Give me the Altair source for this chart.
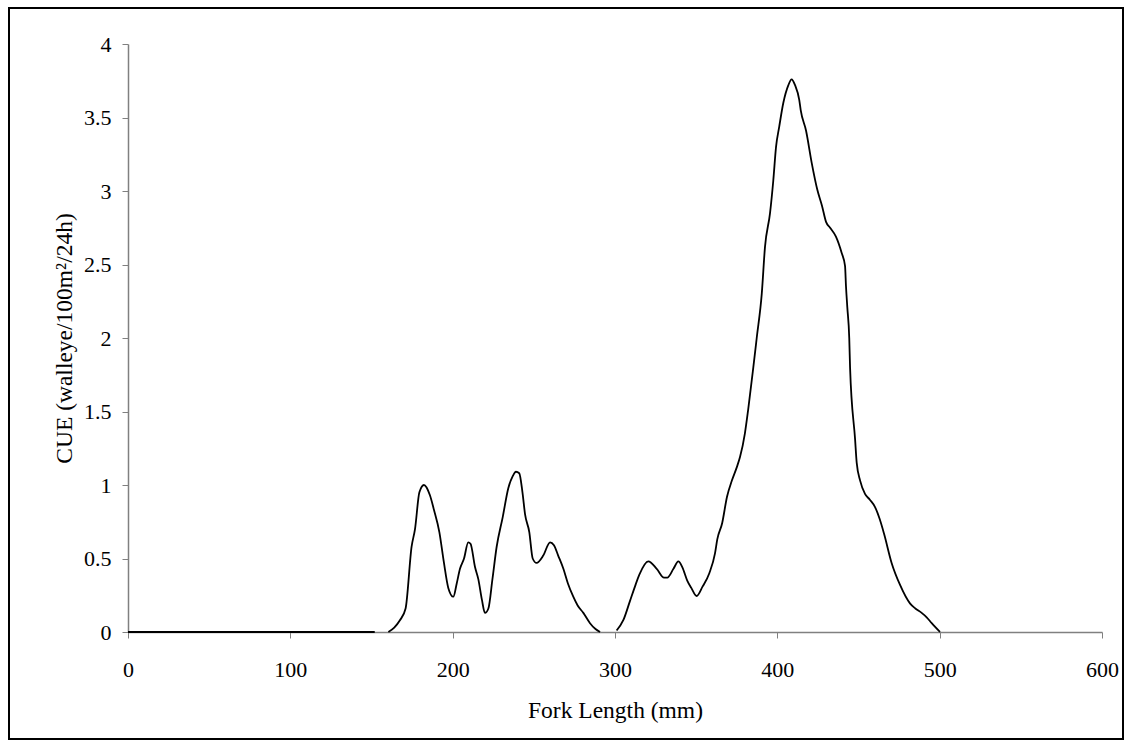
import altair as alt
import pandas as pd

# Segment 1: flat zero run
seg1_x = [0, 152]
seg1_y = [0, 0]

# Segment 2: first group of peaks
seg2_x = [160.4, 164, 167.5, 171, 174.7, 176.8, 179.5, 182.3, 186, 188.5, 191.8, 194.5, 197.3, 200.4,
          202.5, 204.5, 207, 209.6, 211, 213.8, 215.8, 218, 219.9, 222, 224.5, 227.1, 230.8, 234.3,
          237, 239, 241, 243, 244.6, 247.2, 249.3, 251.7, 255.8, 260, 262.4, 265, 268.2, 271,
          274.3, 277, 280.5, 284.6, 288, 290.8]
seg2_y = [0, 0.03, 0.08, 0.16, 0.58, 0.70, 0.95, 1.00, 0.93, 0.83, 0.68, 0.48, 0.30, 0.24,
          0.33, 0.43, 0.50, 0.61, 0.60, 0.44, 0.36, 0.22, 0.13, 0.16, 0.36, 0.58, 0.78, 0.98,
          1.06, 1.09, 1.08, 0.95, 0.80, 0.68, 0.50, 0.47, 0.52, 0.61, 0.59, 0.52, 0.43, 0.33,
          0.24, 0.18, 0.13, 0.06, 0.02, 0]

# Segment 3: main peak
seg3_x = [301, 305.1, 309.2, 312, 315, 320.5, 325.7, 330.2, 332.2, 336, 339, 341.5, 344.5, 347,
          350.3, 354, 358.1, 361.6, 363, 366, 369, 372, 375, 377, 380, 382, 385.2, 387.3, 390.4,
          392.4, 395.5, 397.5, 399.2, 401.2, 403.7, 406.8, 408.8, 410.9, 413.5, 414.4, 417.7,
          421.2, 424.6, 427.5, 430, 432.5, 436.1, 439.6, 441.7, 442.3, 443.1, 444.3, 444.8, 447.9,
          448.9, 451, 454, 457, 460.2, 463, 465.7, 470.4, 475.6, 481.7, 485, 488.9, 492, 495.1, 500.2]
seg3_y = [0.01, 0.08, 0.21, 0.30, 0.39, 0.48, 0.43, 0.37, 0.37, 0.43, 0.48, 0.44, 0.35, 0.30,
          0.245, 0.31, 0.40, 0.535, 0.63, 0.74, 0.92, 1.03, 1.12, 1.19, 1.35, 1.51, 1.80, 2.0, 2.30,
          2.62, 2.85, 3.07, 3.30, 3.44, 3.60, 3.72, 3.76, 3.72, 3.62, 3.55, 3.41,
          3.19, 3.01, 2.90, 2.79, 2.75, 2.69, 2.58, 2.49, 2.35, 2.21, 2.0, 1.80, 1.31,
          1.15, 1.03, 0.94, 0.90, 0.85, 0.77, 0.67, 0.47, 0.32, 0.195, 0.16, 0.13, 0.10, 0.06, 0]

x_ticks = [0, 100, 200, 300, 400, 500, 600]
y_ticks = [0, 0.5, 1, 1.5, 2, 2.5, 3, 3.5, 4]

rows = []
for seg, xs, ys in [("a", seg1_x, seg1_y), ("b", seg2_x, seg2_y), ("c", seg3_x, seg3_y)]:
    for i, (xv, yv) in enumerate(zip(xs, ys)):
        rows.append({"seg": seg, "order": i, "fl": xv, "cue": yv})
df = pd.DataFrame(rows)

FONT = "Liberation Serif"
GRAY = "#808080"

line = alt.Chart(df).mark_line(color="black", strokeWidth=1.8, interpolate="monotone").encode(
    x=alt.X("fl:Q", title="Fork Length (mm)",
            scale=alt.Scale(domain=[0, 600], nice=False),
            axis=alt.Axis(values=x_ticks, grid=False, domainColor=GRAY, tickColor=GRAY,
                          tickSize=6, labelPadding=21, titlePadding=18, labelFlush=False)),
    y=alt.Y("cue:Q", title="CUE (walleye/100m²/24h)",
            scale=alt.Scale(domain=[0, 4], nice=False),
            axis=alt.Axis(values=y_ticks, format=".1~f", grid=False, domainColor=GRAY,
                          tickColor=GRAY, tickSize=6, labelPadding=11, titlePadding=7,
                          labelFlush=False)),
    detail="seg:N",
    order="order:Q",
)

border = alt.Chart(pd.DataFrame({"k": [0]})).mark_rect(
    fill=None, stroke="black", strokeWidth=2
).encode(
    x=alt.value(-119), x2=alt.value(995), y=alt.value(-36), y2=alt.value(107 + 588)
)

chart = alt.layer(border, line).properties(
    width=974, height=588,
    padding={"left": 128, "top": 44, "right": 31, "bottom": 118},
    autosize=alt.AutoSizeParams(type="none"),
    background="white",
).configure_view(stroke=None).configure_axis(
    labelFont=FONT, titleFont=FONT, labelFontSize=22, titleFontSize=23.5,
    labelColor="black", titleColor="black", titleFontWeight="normal",
    domainWidth=1.5,
)

chart.save("out.html", embed_options={"renderer": "svg", "actions": False})
